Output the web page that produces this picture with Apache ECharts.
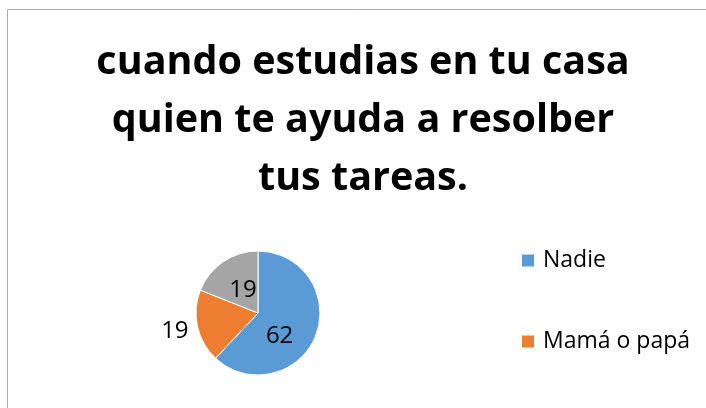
<!DOCTYPE html>
<html>
<head>
<meta charset="utf-8">
<script src="https://cdn.jsdelivr.net/npm/echarts@6/dist/echarts.min.js"></script>
<style>
  html, body { margin: 0; padding: 0; background: #fff; }
  #chart { width: 706px; height: 408px; }
</style>
</head>
<body>
<div id="chart"></div>
<script>
// datos de la encuesta
const titulo = 'cuando estudias en tu casa\nquien te ayuda a resolber\ntus tareas.'
const categorias = ['Nadie', 'Mamá o papá', 'Hermanos']
const valores = [62, 19, 19]
const colores = ['#5B9BD5', '#ED7D31', '#A5A5A5']
const etiquetaFuera = [false, true, false] // la de naranja va fuera del pastel
const desplazaEtiqueta = [[-10, 11], [0, 4], [4, 5]]

const fuente = '"Open Sans", sans-serif'

const myChart = echarts.init(document.getElementById('chart'))
myChart.setOption({
  animation: false,
  color: colores,
  graphic: [
    // marco gris del área del gráfico
    {
      type: 'rect',
      shape: { x: 7.5, y: 9.5, width: 800, height: 500 },
      style: { fill: 'none', stroke: '#ababab', lineWidth: 1 },
      silent: true
    },
    // titulo (centrado en x=363 como en el original)
    {
      type: 'text',
      x: 363,
      y: 34,
      silent: true,
      style: {
        text: titulo,
        align: 'center',
        verticalAlign: 'top',
        fontFamily: fuente,
        fontSize: 39.5,
        fontWeight: 'bold',
        fill: '#000',
        lineHeight: 58
      }
    }
  ],
  legend: {
    orient: 'vertical',
    left: 515,
    top: 244,
    itemWidth: 14,
    itemHeight: 14,
    itemGap: 58,
    icon: 'rect',
    data: categorias,
    textStyle: {
      fontFamily: fuente,
      fontSize: 23,
      color: '#000',
      padding: [0, 0, 0, 3]
    }
  },
  series: [{
    type: 'pie',
    center: [258, 313],
    radius: 62,
    startAngle: 90,
    clockwise: true,
    itemStyle: { borderColor: '#fff', borderWidth: 1 },
    label: {
      position: 'inside',
      formatter: '{c}',
      fontFamily: fuente,
      fontSize: 24,
      color: '#000'
    },
    labelLine: { show: false },
    data: categorias.map((c, i) => ({
      name: c,
      value: valores[i],
      label: etiquetaFuera[i]
        ? { position: 'outside', offset: desplazaEtiqueta[i] }
        : { offset: desplazaEtiqueta[i] },
      labelLine: etiquetaFuera[i] ? { show: false, length: 4, length2: 0 } : undefined
    }))
  }]
})
</script>
</body>
</html>
